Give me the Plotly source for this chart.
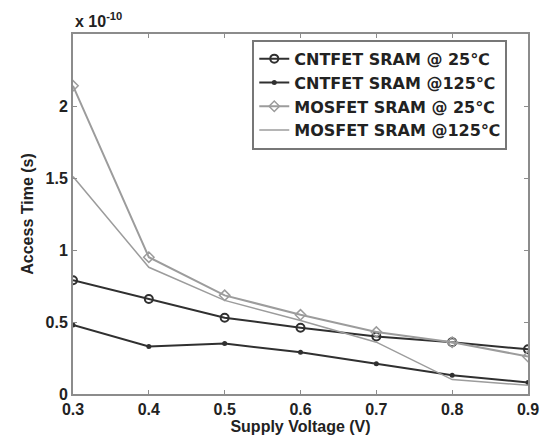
import plotly.graph_objects as go

voltage = [0.3, 0.4, 0.5, 0.6, 0.7, 0.8, 0.9]
# access time in units of 1e-10 s
cnt_25 = [0.79, 0.66, 0.53, 0.46, 0.40, 0.36, 0.31]
cnt_125 = [0.48, 0.33, 0.35, 0.29, 0.21, 0.13, 0.08]
mos_25 = [2.14, 0.95, 0.685, 0.55, 0.43, 0.36, 0.26]
mos_125 = [1.51, 0.88, 0.65, 0.51, 0.36, 0.10, 0.06]
x_ticks = [0.3, 0.4, 0.5, 0.6, 0.7, 0.8, 0.9]
y_ticks = [0, 0.5, 1, 1.5, 2]
y_tick_text = ["0", "0.5", "1", "1.5", "2"]

dark = "#303030"
light = "#9c9c9c"
font = "Liberation Sans, Arial, sans-serif"
legend_font = "DejaVu Sans, Liberation Sans, sans-serif"

fig = go.Figure()
fig.add_trace(go.Scatter(x=voltage, y=cnt_25, mode="lines+markers", name="<b>CNTFET SRAM @ 25℃</b>",
                         line=dict(color=dark, width=2),
                         marker=dict(symbol="circle-open", size=8, color=dark, line=dict(width=2))))
fig.add_trace(go.Scatter(x=voltage, y=cnt_125, mode="lines+markers", name="<b>CNTFET SRAM @125℃</b>",
                         line=dict(color=dark, width=2),
                         marker=dict(symbol="circle", size=5, color=dark)))
fig.add_trace(go.Scatter(x=voltage, y=mos_25, mode="lines+markers", name="<b>MOSFET SRAM @ 25℃</b>",
                         line=dict(color=light, width=2),
                         marker=dict(symbol="diamond-open", size=8, color=light, line=dict(width=1.5))))
fig.add_trace(go.Scatter(x=voltage, y=mos_125, mode="lines", name="<b>MOSFET SRAM @125℃</b>",
                         line=dict(color=light, width=1.5)))

axis_common = dict(showline=True, linecolor="#8c8c8c", linewidth=2, mirror="ticks",
                   ticks="inside", ticklen=4, tickcolor="#8c8c8c", showgrid=False, zeroline=False,
                   automargin=False,
                   tickfont=dict(family=font, size=16, color="#222222"))

fig.update_layout(
    width=542, height=439,
    margin=dict(l=73, r=14, t=34, b=45),
    paper_bgcolor="white", plot_bgcolor="white",
    font=dict(family=font, color="#222222"),
    xaxis=dict(range=[0.3, 0.9], tickvals=x_ticks,
               ticktext=["<b>%.1f</b>" % v for v in x_ticks],
               title=dict(text="<b>Supply Voltage (V)</b>", font=dict(size=16), standoff=0),
               **axis_common),
    yaxis=dict(range=[0, 2.5], tickvals=y_ticks, ticktext=["<b>%s</b>" % t for t in y_tick_text],
               title=dict(text="<b>Access Time (s)</b>", font=dict(size=16), standoff=8),
               **axis_common),
    legend=dict(x=0.394, y=0.984, xanchor="left", yanchor="top",
                bgcolor="white", bordercolor="#777777", borderwidth=2,
                font=dict(family=legend_font, size=16, color="#222222"),
                tracegroupgap=0, itemwidth=30),
    showlegend=True,
)
fig.add_annotation(text="<b>x 10<sup>-10</sup></b>", xref="paper", yref="paper", x=0, y=1.0,
                   xanchor="left", yanchor="bottom", showarrow=False, yshift=2,
                   font=dict(family=font, size=16, color="#222222"))

fig.write_html("out.html")
